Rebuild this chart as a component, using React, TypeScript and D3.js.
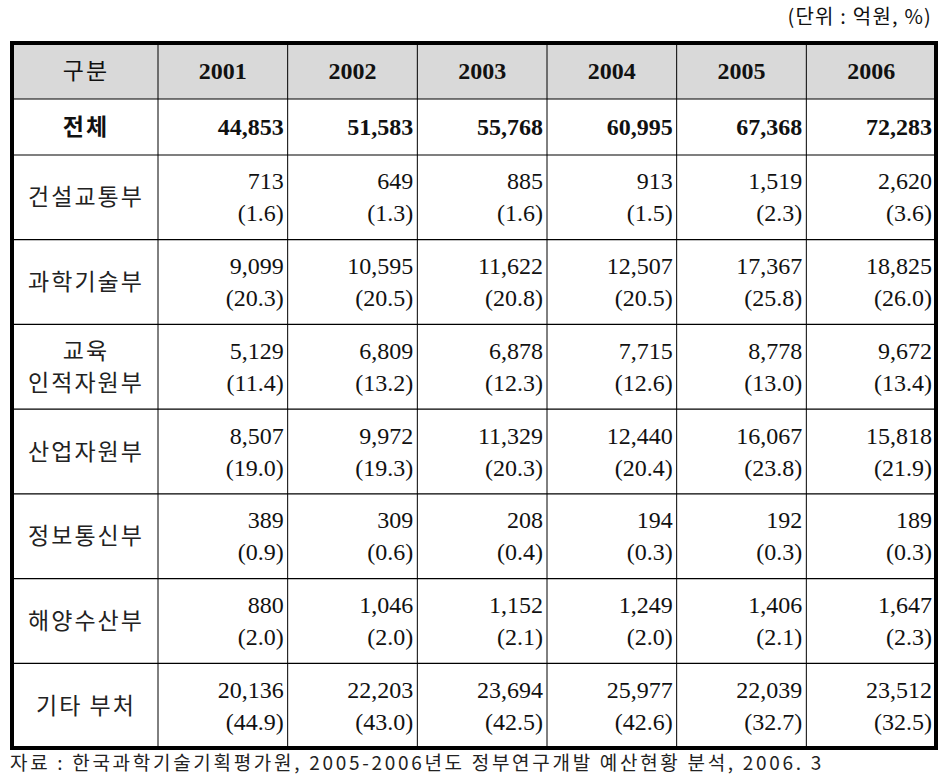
import React from "react";
import * as d3 from "d3";

const years = ["2001", "2002", "2003", "2004", "2005", "2006"];
const totals = [44853, 51583, 55768, 60995, 67368, 72283];
const ministries = ["건설교통부", "과학기술부", "교육|인적자원부", "산업자원부", "정보통신부", "해양수산부", "기타 부처"];
const amounts = [
  [713, 649, 885, 913, 1519, 2620],
  [9099, 10595, 11622, 12507, 17367, 18825],
  [5129, 6809, 6878, 7715, 8778, 9672],
  [8507, 9972, 11329, 12440, 16067, 15818],
  [389, 309, 208, 194, 192, 189],
  [880, 1046, 1152, 1249, 1406, 1647],
  [20136, 22203, 23694, 25977, 22039, 23512],
];
const shares = [
  [1.6, 1.3, 1.6, 1.5, 2.3, 3.6],
  [20.3, 20.5, 20.8, 20.5, 25.8, 26.0],
  [11.4, 13.2, 12.3, 12.6, 13.0, 13.4],
  [19.0, 19.3, 20.3, 20.4, 23.8, 21.9],
  [0.9, 0.6, 0.4, 0.3, 0.3, 0.3],
  [2.0, 2.0, 2.1, 2.0, 2.1, 2.3],
  [44.9, 43.0, 42.5, 42.6, 32.7, 32.5],
];
const headerLabel = "구분";
const totalLabel = "전체";
const unitText = "(단위 : 억원, %)";
const sourceText = "자료 : 한국과학기술기획평가원, 2005-2006년도 정부연구개발 예산현황 분석, 2006. 3";

const W = 945, H = 782;
const L = 12, R = 936, T = 43, B = 748;
const firstColRight = 158;
const headerH = 56, totalH = 56;

const fmt = d3.format(",");
const pfmt = (v: number) => `(${d3.format(".1f")(v)})`;

const serif = "Liberation Serif";
const kr = "Noto Sans CJK KR";

export default function App() {
  const x = d3.scaleBand<string>().domain(years).range([firstColRight, R]).padding(0);
  const rowTop = T + headerH + totalH;
  const y = d3.scaleBand<string>().domain(ministries).range([rowTop, B]).padding(0);

  const colEdges = [L, ...years.map((yr) => x(yr)!), R];
  const rowEdges = [T, T + headerH, rowTop, ...ministries.map((m) => y(m)! + y.bandwidth())];
  const labelX = (L + firstColRight) / 2 + 1;

  return (
    <svg width={W} height={H} style={{ position: "absolute", left: 0, top: 0, background: "#fff" }}>
      <text x={932} y={24} textAnchor="end" fontFamily={kr} fontSize={20} letterSpacing={1.2} fill="#111">{unitText}</text>
      <rect x={L} y={T} width={R - L} height={headerH} fill="#d9d9d9" />
      {colEdges.slice(1, -1).map((cx, i) => (
        <line key={"c" + i} x1={cx} x2={cx} y1={T} y2={B} stroke="#000" strokeWidth={1} />
      ))}
      {rowEdges.slice(1, -1).map((ry, i) => (
        <line key={"r" + i} x1={L} x2={R} y1={ry} y2={ry} stroke="#000" strokeWidth={1.2} />
      ))}
      <text x={labelX} y={T + headerH / 2 + 8} textAnchor="middle" fontFamily={kr} fontSize={23} letterSpacing={2} fill="#111">{headerLabel}</text>
      {years.map((yr) => (
        <text key={yr} x={x(yr)! + x.bandwidth() / 2} y={T + headerH / 2 + 8} textAnchor="middle" fontFamily={serif} fontWeight="bold" fontSize={24} fill="#111">{yr}</text>
      ))}
      <text x={labelX} y={T + headerH + totalH / 2 + 8} textAnchor="middle" fontFamily={kr} fontWeight="bold" fontSize={23} letterSpacing={2} fill="#111">{totalLabel}</text>
      {years.map((yr, i) => (
        <text key={"t" + yr} x={x(yr)! + x.bandwidth() - 4} y={T + headerH + totalH / 2 + 8} textAnchor="end" fontFamily={serif} fontWeight="bold" fontSize={24} fill="#111">{fmt(totals[i])}</text>
      ))}
      {ministries.map((m, r) => {
        const cy = y(m)! + y.bandwidth() / 2;
        const parts = m.split("|");
        return (
          <g key={m}>
            {parts.map((p, k) => (
              <text key={k} x={labelX} y={cy + 8 + (parts.length === 1 ? 0 : k === 0 ? -16 : 16)} textAnchor="middle" fontFamily={kr} fontSize={23} letterSpacing={2} fill="#222">{p}</text>
            ))}
            {years.map((yr, i) => (
              <g key={yr}>
                <text x={x(yr)! + x.bandwidth() - 4} y={cy - 16 + 8} textAnchor="end" fontFamily={serif} fontSize={24} fill="#111">{fmt(amounts[r][i])}</text>
                <text x={x(yr)! + x.bandwidth() - 4} y={cy + 16 + 8} textAnchor="end" fontFamily={serif} fontSize={24} fill="#111">{pfmt(shares[r][i])}</text>
              </g>
            ))}
          </g>
        );
      })}
      <rect x={L} y={T} width={R - L} height={B - T} fill="none" stroke="#000" strokeWidth={4} />
      <text x={10} y={770} fontFamily={kr} fontSize={19} letterSpacing={2.7} fill="#222">{sourceText}</text>
    </svg>
  );
}
